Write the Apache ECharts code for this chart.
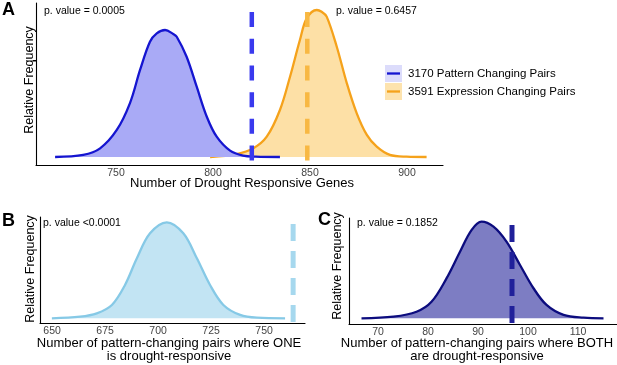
<!DOCTYPE html>
<html>
<head>
<meta charset="utf-8">
<script src="https://cdn.jsdelivr.net/npm/echarts@6/dist/echarts.min.js"></script>
<style>html,body{margin:0;padding:0;background:#fff}#c{width:617px;height:365px}</style>
</head>
<body>
<div id="c"></div>
<script>
// ---- Data ----
const aPatternX = [718.6, 733.1, 741.8, 750.4, 757.2, 762.4, 767.5, 771.0, 775.3, 779.5, 781.3, 786.4, 791.6, 796.8, 801.9, 808.8, 815.5, 822.0, 834.5];
const aPatternY = [0, 0.014, 0.059, 0.184, 0.367, 0.592, 0.784, 0.841, 0.864, 0.837, 0.818, 0.682, 0.478, 0.274, 0.138, 0.043, 0.009, 0.002, 0];
const aExprX = [798.5, 812.2, 820.8, 827.7, 834.5, 839.7, 844.8, 848.3, 853.5, 856.0, 858.6, 863.8, 869.0, 874.1, 879.3, 884.4, 891.2, 899.8, 910.1];
const aExprY = [0, 0.02, 0.059, 0.138, 0.32, 0.546, 0.796, 0.943, 1.0, 0.988, 0.955, 0.75, 0.501, 0.297, 0.15, 0.07, 0.014, 0.002, 0];
const aCutoffs = [820, 848.6];           // observed values (pattern, expression)
const aTicks = [750, 800, 850, 900];

const bX = [649.9, 663.2, 671.1, 678.2, 684.4, 690.0, 696.2, 704.1, 711.9, 718.3, 724.5, 730.8, 738.7, 746.6, 759.9];
const bY = [0, 0.017, 0.052, 0.139, 0.347, 0.625, 0.885, 1.0, 0.885, 0.625, 0.347, 0.139, 0.035, 0.006, 0];
const bCutoff = 763.7;
const bTicks = [650, 675, 700, 725, 750];

const cX = [66.7, 73.1, 77.7, 80.7, 83.7, 86.4, 88.7, 90.7, 93.1, 95.7, 98.4, 101.1, 103.7, 107.1, 111.1, 115.1];
const cY = [0, 0.017, 0.068, 0.171, 0.413, 0.689, 0.913, 1.0, 0.948, 0.793, 0.552, 0.311, 0.138, 0.035, 0.006, 0];
const cCutoff = 96.8;
const cTicks = [70, 80, 90, 100, 110];

const legendLabels = ['3170 Pattern Changing Pairs', '3591 Expression Changing Pairs'];
const pValues = ['p. value = 0.0005', 'p. value = 0.6457', 'p. value <0.0001', 'p. value = 0.1852'];

// ---- Build chart ----
const FONT = "'Liberation Sans', Arial, sans-serif";
const pts = (xs, ys) => xs.map((x, i) => [x, ys[i]]);

function xAxisDef(gi, min, max, ticks) {
  return {
    type: 'value', gridIndex: gi, min: min, max: max,
    axisLine: { show: true, onZero: false, lineStyle: { color: '#000', width: 1.1 } },
    axisTick: { show: false },
    splitLine: { show: false },
    axisLabel: { customValues: ticks, margin: 3, color: '#444', fontSize: 10.5, fontFamily: FONT }
  };
}
function yAxisDef(gi, min, max, tickVals) {
  return {
    type: 'value', gridIndex: gi, min: min, max: max,
    axisLine: { show: true, onZero: false, lineStyle: { color: '#000', width: 1.1 } },
    axisTick: tickVals ? { show: true, customValues: tickVals, length: 3, lineStyle: { color: '#000' } } : { show: false },
    splitLine: { show: false },
    axisLabel: { show: false }
  };
}
function density(gi, xs, ys, line, fill, z) {
  return {
    type: 'line', xAxisIndex: gi, yAxisIndex: gi, data: pts(xs, ys),
    smooth: 0.35, symbol: 'none', z: z, silent: true,
    lineStyle: { color: line, width: 2.3 },
    areaStyle: { color: fill, opacity: 1 }
  };
}
function vline(gi, x, top, bottom, color, width, dash) {
  return {
    type: 'line', xAxisIndex: gi, yAxisIndex: gi, data: [[x, top], [x, bottom]],
    symbol: 'none', z: 10, silent: true,
    lineStyle: { color: color, width: width, type: dash, cap: 'butt' }
  };
}

const yA = [-0.0544, 1.0476], yB = [-0.049, 1.055], yC = [-0.059, 1.038];

const txt = (text, x, y, size, opts) => Object.assign({
  type: 'text', x: x, y: y,
  style: Object.assign({ text: text, font: size + 'px ' + FONT, fill: '#000', align: 'left', verticalAlign: 'middle' }, (opts && opts.style) || {})
}, (opts && opts.el) || {});

const graphics = [
  // panel letters
  txt('A', 2, 10, 18, { style: { font: 'bold 18px ' + FONT } }),
  txt('B', 2, 221, 18, { style: { font: 'bold 18px ' + FONT } }),
  txt('C', 318, 220, 18, { style: { font: 'bold 18px ' + FONT } }),
  // p values
  txt(pValues[0], 44, 11, 10.5),
  txt(pValues[1], 336, 11, 10.5),
  txt(pValues[2], 43, 223.5, 10.5),
  txt(pValues[3], 357, 223.5, 10.5),
  // y titles
  txt('Relative Frequency', 29.5, 80, 12.5, { style: { align: 'center' }, el: { rotation: Math.PI / 2 } }),
  txt('Relative Frequency', 30.5, 269, 12.5, { style: { align: 'center' }, el: { rotation: Math.PI / 2 } }),
  txt('Relative Frequency', 337.5, 266, 12.5, { style: { align: 'center' }, el: { rotation: Math.PI / 2 } }),
  // x titles
  txt('Number of Drought Responsive Genes', 242, 183, 13, { style: { align: 'center' } }),
  txt('Number of pattern-changing pairs where ONE', 169, 343, 13, { style: { align: 'center' } }),
  txt('is drought-responsive', 169, 356, 13, { style: { align: 'center' } }),
  txt('Number of pattern-changing pairs where BOTH', 477, 343, 13, { style: { align: 'center' } }),
  txt('are drought-responsive', 477, 356, 13, { style: { align: 'center' } }),
  // legend
  { type: 'rect', shape: { x: 385, y: 65, width: 17, height: 17 }, style: { fill: '#dcdcfb' } },
  { type: 'line', shape: { x1: 387, y1: 73.5, x2: 400, y2: 73.5 }, style: { stroke: '#1515d0', lineWidth: 2.3 } },
  { type: 'rect', shape: { x: 385, y: 83, width: 17, height: 17 }, style: { fill: '#fde3ae' } },
  { type: 'line', shape: { x1: 387, y1: 91.5, x2: 400, y2: 91.5 }, style: { stroke: '#f5a21b', lineWidth: 2.3 } },
  txt(legendLabels[0], 408, 73.5, 11.5),
  txt(legendLabels[1], 408, 91.5, 11.5)
];

const option = {
  animation: false,
  backgroundColor: '#fff',
  grid: [
    { left: 36, top: 3, width: 407, height: 162 },
    { left: 40, top: 217, width: 265, height: 106 },
    { left: 349, top: 218, width: 268, height: 106 }
  ],
  xAxis: [
    xAxisDef(0, 708.76, 918.56, aTicks),
    xAxisDef(1, 644.3, 769.3, bTicks),
    xAxisDef(2, 64.2, 117.8, cTicks)
  ],
  yAxis: [
    yAxisDef(0, yA[0], yA[1], [0.66]),
    yAxisDef(1, yB[0], yB[1]),
    yAxisDef(2, yC[0], yC[1])
  ],
  series: [
    density(0, aExprX, aExprY, '#f5a21b', '#fde0a6', 2),
    density(0, aPatternX, aPatternY, '#1515d0', '#a9aaf6', 3),
    vline(0, aCutoffs[0], 0.986, yA[0], '#3a3aee', 4.5, [15, 11.7]),
    vline(0, aCutoffs[1], 0.986, yA[0], '#f8b843', 4.5, [15, 11.7]),
    density(1, bX, bY, '#86c9e6', '#c2e4f3', 2),
    vline(1, bCutoff, 0.982, yB[0], '#a6d8ee', 5, [17, 10]),
    density(2, cX, cY, '#0c0c7e', '#7d7dc3', 2),
    vline(2, cCutoff, 0.966, yC[0], '#20209a', 5, [17, 10])
  ],
  graphic: graphics
};

const chart = echarts.init(document.getElementById('c'), null, { renderer: 'canvas' });
chart.setOption(option);
</script>
</body>
</html>
